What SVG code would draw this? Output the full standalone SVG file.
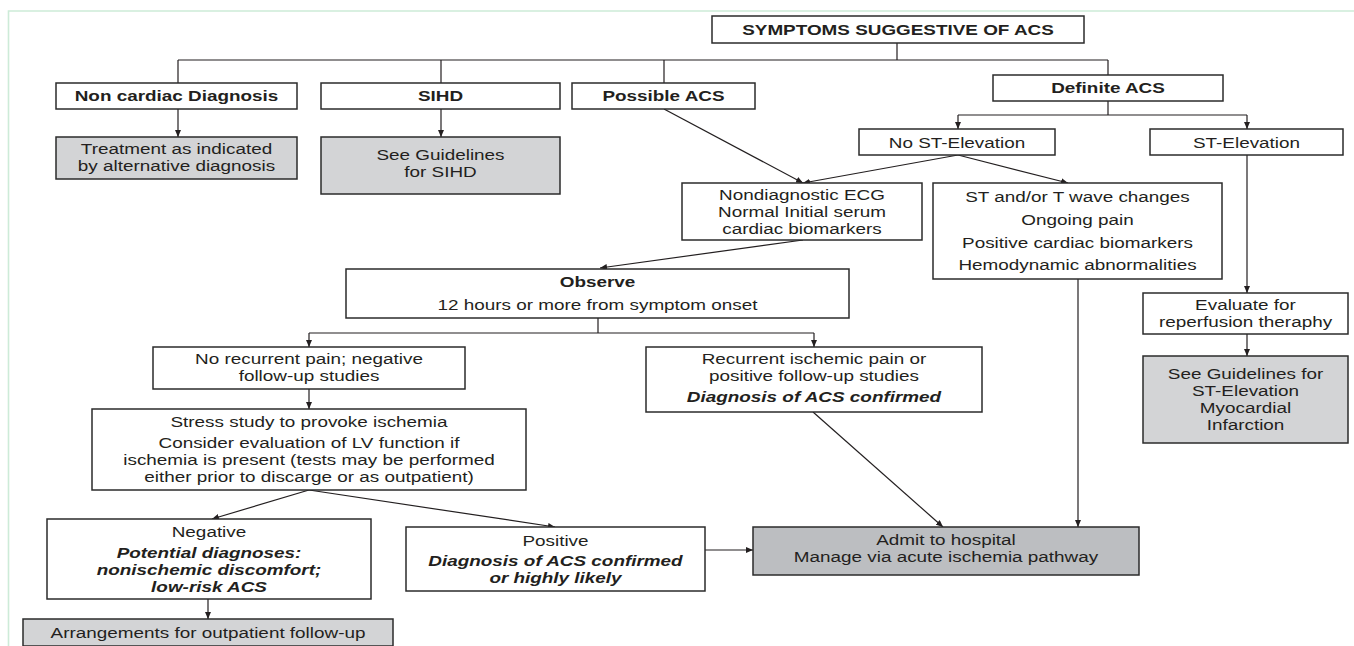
<svg xmlns="http://www.w3.org/2000/svg" width="1354" height="646" viewBox="0 0 1354 646">
<style>
.bx{fill:#fff;stroke:#2b2b2b;stroke-width:1.5}
.g1{fill:#d3d4d6}
.g2{fill:#bcbec1}
.t{font-family:"Liberation Sans",Arial,sans-serif;font-size:15px;fill:#231f20;text-anchor:middle}
.b{font-weight:bold}
.bi{font-weight:bold;font-style:italic}
.c{fill:none;stroke:#231f20;stroke-width:1.2}
.frame{fill:none;stroke:#cdebd8;stroke-width:1.6}
</style>
<defs>
<marker id="ah" markerUnits="userSpaceOnUse" markerWidth="7" markerHeight="6" refX="7" refY="3" orient="auto">
<path d="M0,0 L7,3 L0,6 z" fill="#231f20"/>
</marker>
</defs>
<rect width="1354" height="646" fill="#fff"/>
<path class="frame" d="M8.5,646 V11 H1354"/>

<g id="connectors">
<path class="c" d="M897,43 V60 M178,60 H1108 M178,60 V83 M441,60 V83 M664,60 V83 M1108,60 V75"/>
<path class="c" d="M178,109 V137" marker-end="url(#ah)"/>
<path class="c" d="M441,109 V137" marker-end="url(#ah)"/>
<path class="c" d="M1108,101 V115 M958,115 H1247"/>
<path class="c" d="M958,115 V129" marker-end="url(#ah)"/>
<path class="c" d="M1247,115 V129" marker-end="url(#ah)"/>
<path class="c" d="M664,109 L803,183" marker-end="url(#ah)"/>
<path class="c" d="M958,155 L803,183" marker-end="url(#ah)"/>
<path class="c" d="M958,155 L1068,183" marker-end="url(#ah)"/>
<path class="c" d="M803,240 L600,268" marker-end="url(#ah)"/>
<path class="c" d="M598,318 V333 M309,333 H814"/>
<path class="c" d="M309,333 V347" marker-end="url(#ah)"/>
<path class="c" d="M814,333 V347" marker-end="url(#ah)"/>
<path class="c" d="M1247,155 V293" marker-end="url(#ah)"/>
<path class="c" d="M1247,334 V356" marker-end="url(#ah)"/>
<path class="c" d="M309,389 V409" marker-end="url(#ah)"/>
<path class="c" d="M309,490 L212,519" marker-end="url(#ah)"/>
<path class="c" d="M309,490 L555,527" marker-end="url(#ah)"/>
<path class="c" d="M208,599 V619" marker-end="url(#ah)"/>
<path class="c" d="M705,550 H753" marker-end="url(#ah)"/>
<path class="c" d="M813,412 L943,527" marker-end="url(#ah)"/>
<path class="c" d="M1078,279 V527" marker-end="url(#ah)"/>
</g>

<g id="n-symptoms">
<rect class="bx" x="712" y="16" width="372" height="27"/>
<text class="t b" transform="translate(898,0) scale(1.26,1)"><tspan x="0" y="35">SYMPTOMS SUGGESTIVE OF ACS</tspan></text>
</g>
<g id="n-noncardiac">
<rect class="bx" x="56" y="83" width="241" height="26"/>
<text class="t b" transform="translate(176.5,0) scale(1.26,1)"><tspan x="0" y="101">Non cardiac Diagnosis</tspan></text>
</g>
<g id="n-sihd">
<rect class="bx" x="321" y="83" width="239" height="26"/>
<text class="t b" transform="translate(440.5,0) scale(1.26,1)"><tspan x="0" y="101">SIHD</tspan></text>
</g>
<g id="n-possible">
<rect class="bx" x="572" y="83" width="183" height="26"/>
<text class="t b" transform="translate(663.5,0) scale(1.26,1)"><tspan x="0" y="101">Possible ACS</tspan></text>
</g>
<g id="n-definite">
<rect class="bx" x="993" y="75" width="230" height="26"/>
<text class="t b" transform="translate(1108,0) scale(1.26,1)"><tspan x="0" y="93">Definite ACS</tspan></text>
</g>
<g id="n-treatment">
<rect class="bx g1" x="56" y="137" width="241" height="42"/>
<text class="t" transform="translate(176.5,0) scale(1.26,1)"><tspan x="0" y="154">Treatment as indicated</tspan><tspan x="0" y="171">by alternative diagnosis</tspan></text>
</g>
<g id="n-sihdguide">
<rect class="bx g1" x="321" y="137" width="239" height="57"/>
<text class="t" transform="translate(440.5,0) scale(1.26,1)"><tspan x="0" y="160">See Guidelines</tspan><tspan x="0" y="177">for SIHD</tspan></text>
</g>
<g id="n-nost">
<rect class="bx" x="859" y="129" width="196" height="26"/>
<text class="t" transform="translate(957,0) scale(1.26,1)"><tspan x="0" y="148">No ST-Elevation</tspan></text>
</g>
<g id="n-stel">
<rect class="bx" x="1150" y="129" width="193" height="26"/>
<text class="t" transform="translate(1246.5,0) scale(1.26,1)"><tspan x="0" y="148">ST-Elevation</tspan></text>
</g>
<g id="n-nondiag">
<rect class="bx" x="682" y="183" width="240" height="57"/>
<text class="t" transform="translate(802,0) scale(1.26,1)"><tspan x="0" y="200">Nondiagnostic ECG</tspan><tspan x="0" y="217">Normal Initial serum</tspan><tspan x="0" y="234">cardiac biomarkers</tspan></text>
</g>
<g id="n-st">
<rect class="bx" x="933" y="183" width="289" height="96"/>
<text class="t" transform="translate(1077.5,0) scale(1.26,1)"><tspan x="0" y="202">ST and/or T wave changes</tspan><tspan x="0" y="225">Ongoing pain</tspan><tspan x="0" y="248">Positive cardiac biomarkers</tspan><tspan x="0" y="270">Hemodynamic abnormalities</tspan></text>
</g>
<g id="n-observe">
<rect class="bx" x="346" y="269" width="503" height="49"/>
<text class="t" transform="translate(597.5,0) scale(1.26,1)"><tspan class="b" x="0" y="287">Observe</tspan><tspan x="0" y="310">12 hours or more from symptom onset</tspan></text>
</g>
<g id="n-evaluate">
<rect class="bx" x="1143" y="293" width="205" height="41"/>
<text class="t" transform="translate(1245.5,0) scale(1.26,1)"><tspan x="0" y="310">Evaluate for</tspan><tspan x="0" y="327">reperfusion theraphy</tspan></text>
</g>
<g id="n-stguide">
<rect class="bx g1" x="1143" y="356" width="205" height="87"/>
<text class="t" transform="translate(1245.5,0) scale(1.26,1)"><tspan x="0" y="379">See Guidelines for</tspan><tspan x="0" y="396">ST-Elevation</tspan><tspan x="0" y="413">Myocardial</tspan><tspan x="0" y="430">Infarction</tspan></text>
</g>
<g id="n-norecur">
<rect class="bx" x="153" y="347" width="312" height="42"/>
<text class="t" transform="translate(309,0) scale(1.26,1)"><tspan x="0" y="364">No recurrent pain; negative</tspan><tspan x="0" y="381">follow-up studies</tspan></text>
</g>
<g id="n-recur">
<rect class="bx" x="646" y="347" width="336" height="65"/>
<text class="t" transform="translate(814,0) scale(1.26,1)"><tspan x="0" y="364">Recurrent ischemic pain or</tspan><tspan x="0" y="381">positive follow-up studies</tspan><tspan class="bi" x="0" y="402">Diagnosis of ACS confirmed</tspan></text>
</g>
<g id="n-stress">
<rect class="bx" x="92" y="409" width="434" height="81"/>
<text class="t" transform="translate(309,0) scale(1.26,1)"><tspan x="0" y="427">Stress study to provoke ischemia</tspan><tspan x="0" y="448">Consider evaluation of LV function if</tspan><tspan x="0" y="465">ischemia is present (tests may be performed</tspan><tspan x="0" y="482">either prior to discarge or as outpatient)</tspan></text>
</g>
<g id="n-negative">
<rect class="bx" x="47" y="519" width="324" height="80"/>
<text class="t" transform="translate(209,0) scale(1.26,1)"><tspan x="0" y="537">Negative</tspan><tspan class="bi" x="0" y="558">Potential diagnoses:</tspan><tspan class="bi" x="0" y="575">nonischemic discomfort;</tspan><tspan class="bi" x="0" y="592">low-risk ACS</tspan></text>
</g>
<g id="n-positive">
<rect class="bx" x="406" y="527" width="299" height="64"/>
<text class="t" transform="translate(555.5,0) scale(1.26,1)"><tspan x="0" y="546">Positive</tspan><tspan class="bi" x="0" y="566">Diagnosis of ACS confirmed</tspan><tspan class="bi" x="0" y="583">or highly likely</tspan></text>
</g>
<g id="n-admit">
<rect class="bx g2" x="753" y="527" width="386" height="48"/>
<text class="t" transform="translate(946,0) scale(1.26,1)"><tspan x="0" y="545">Admit to hospital</tspan><tspan x="0" y="562">Manage via acute ischemia pathway</tspan></text>
</g>
<g id="n-arrange">
<rect class="bx g1" x="23" y="619" width="370" height="27"/>
<text class="t" transform="translate(208,0) scale(1.26,1)"><tspan x="0" y="638">Arrangements for outpatient follow-up</tspan></text>
</g>
</svg>
